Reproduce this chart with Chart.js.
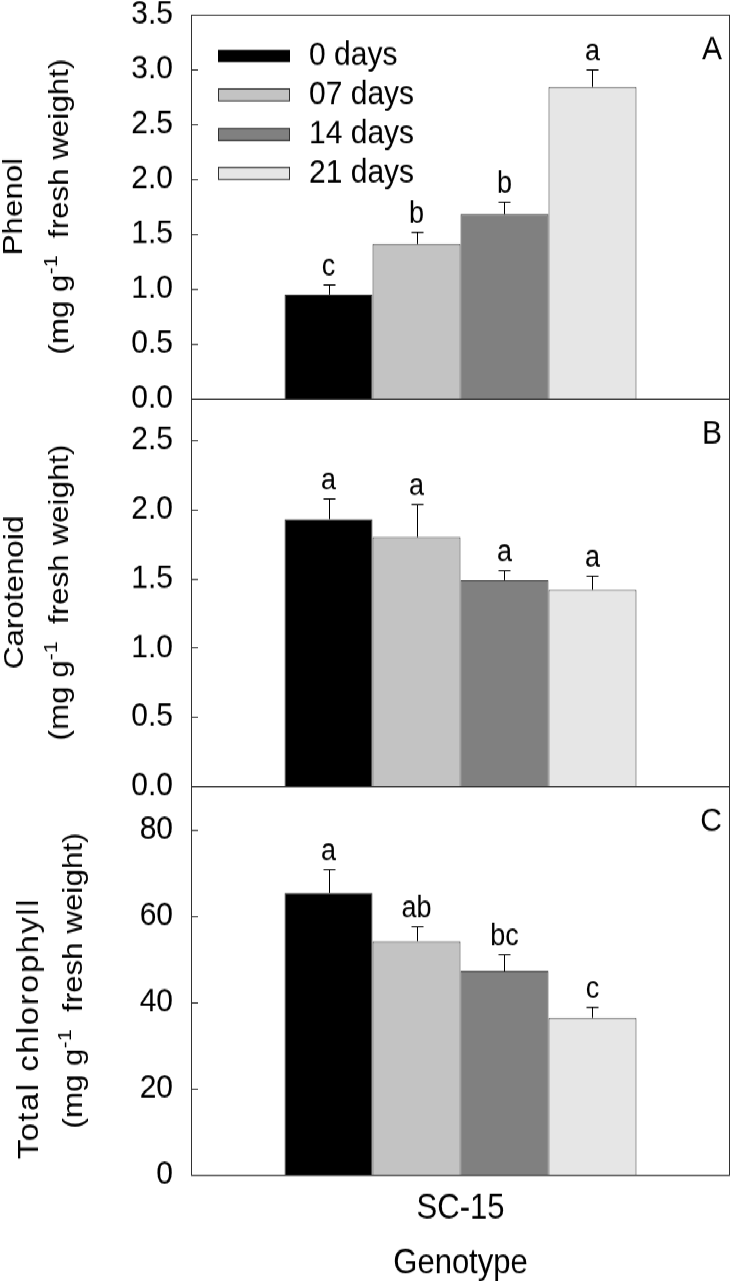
<!DOCTYPE html>
<html>
<head>
<meta charset="utf-8">
<script src="https://cdn.jsdelivr.net/npm/chart.js@4.4.1/dist/chart.umd.min.js"></script>
<style>
  body { margin: 0; background: #fff; }
  #page { width: 732px; height: 1282px; overflow: hidden; }
  #wrap { position: relative; width: 732px; transform-origin: 0 0; }
  #wrap canvas { position: absolute; left: 0; }
</style>
</head>
<body>
<div id="page"><div id="wrap"></div></div>
<script>
// vertical stretch of the whole figure (the original text is taller than Arial)
const SY = 1.12;
const FONT = "'Liberation Sans', Arial, Helvetica, sans-serif";

const genotypes = ["SC-15"];
const periods = ["0 days", "07 days", "14 days", "21 days"];
const barColors = ["#000000", "#c3c3c3", "#808080", "#e6e6e6"];

const phenolMeans = [0.95, 1.41, 1.68, 2.84];
const phenolErr = [0.09, 0.11, 0.12, 0.16];
const phenolLetters = ["c", "b", "b", "a"];

const carotMeans = [1.93, 1.80, 1.49, 1.42];
const carotErr = [0.15, 0.24, 0.07, 0.10];
const carotLetters = ["a", "a", "a", "a"];

const chlMeans = [65.3, 54.1, 47.2, 36.4];
const chlErr = [5.5, 3.6, 4.0, 2.5];
const chlLetters = ["a", "ab", "bc", "c"];

// panel layout, in page pixels
const panels = [
  { tag: "A", top: 0, bottom: 410, areaTop: 15, areaBottom: 399,
    means: phenolMeans, err: phenolErr, letters: phenolLetters,
    max: 3.5, step: 0.5, dec: 1, title: "Phenol", titleSize: 28, titleSpacing: 0,
    titleX: [22, 68], titleDy: 0, legend: true },
  { tag: "B", top: 390, bottom: 800, areaTop: 399, areaBottom: 787,
    means: carotMeans, err: carotErr, letters: carotLetters,
    max: 2.8, step: 0.5, dec: 1, title: "Carotenoid", titleSize: 28, titleSpacing: 0,
    titleX: [23, 68], titleDy: 0, legend: false },
  { tag: "C", top: 780, bottom: 1282, areaTop: 787, areaBottom: 1176,
    means: chlMeans, err: chlErr, letters: chlLetters,
    max: 90, step: 20, dec: 0, title: "Total chlorophyll", titleSize: 29, titleSpacing: 1.5,
    titleX: [38, 82], titleDy: 48, legend: false, xaxis: true }
];

const wrap = document.getElementById("wrap");
wrap.style.height = Math.round(1282 / SY) + "px";
wrap.style.transform = "scaleY(" + SY + ")";

function drawYTitle(ctx, p, area) {
  const cy = (area.top + area.bottom) / 2;
  ctx.save();
  ctx.fillStyle = "#000";
  ctx.textBaseline = "alphabetic";
  // first line
  ctx.save();
  ctx.translate(p.titleX[0], cy + p.titleDy / SY);
  ctx.rotate(-Math.PI / 2);
  ctx.font = p.titleSize + "px " + FONT;
  ctx.letterSpacing = p.titleSpacing + "px";
  ctx.textAlign = "center";
  ctx.fillText(p.title, 0, 0);
  ctx.restore();
  // second line with superscript
  const parts = [
    { t: "(mg g", f: "28px " + FONT, dy: 0 },
    { t: "-1", f: "19px " + FONT, dy: -11 },
    { t: "  fresh weight)", f: "28px " + FONT, dy: 0 }
  ];
  let total = 0;
  parts.forEach(q => { ctx.font = q.f; q.w = ctx.measureText(q.t).width; total += q.w; });
  ctx.translate(p.titleX[1], cy);
  ctx.rotate(-Math.PI / 2);
  ctx.textAlign = "left";
  let x = -total / 2;
  parts.forEach(q => { ctx.font = q.f; ctx.fillText(q.t, x, q.dy); x += q.w; });
  ctx.restore();
}

const panelPlugin = {
  id: "panelDeco",
  afterDraw(chart) {
    const p = chart.options.panel;
    const ctx = chart.ctx;
    const area = chart.chartArea;
    const ys = chart.scales.y;
    ctx.save();
    // error bars + letters
    ctx.strokeStyle = "#000";
    ctx.lineWidth = 1;
    chart.data.datasets.forEach((ds, i) => {
      const bar = chart.getDatasetMeta(i).data[0];
      const x = Math.round(bar.x) + 0.5;
      const yTop = bar.y;
      const yErr = Math.round(ys.getPixelForValue(p.means[i] + p.err[i])) + 0.5;
      ctx.beginPath();
      ctx.moveTo(x, yTop);
      ctx.lineTo(x, yErr);
      ctx.moveTo(x - 6, yErr);
      ctx.lineTo(x + 6, yErr);
      ctx.stroke();
      ctx.fillStyle = "#000";
      ctx.font = "27px " + FONT;
      ctx.textAlign = "center";
      ctx.textBaseline = "alphabetic";
      ctx.fillText(p.letters[i], bar.x, yErr - 9 / SY);
    });
    // frame
    ctx.strokeStyle = "#333";
    ctx.strokeRect(Math.round(area.left) + 0.5, Math.round(area.top) + 0.5,
      Math.round(area.right - area.left) - 1, Math.round(area.bottom - area.top));
    // inside tick marks
    ys.ticks.forEach(t => {
      const py = Math.round(ys.getPixelForValue(t.value)) + 0.5;
      ctx.beginPath();
      ctx.moveTo(area.left, py);
      ctx.lineTo(area.left + 7, py);
      ctx.stroke();
    });
    // panel tag
    ctx.fillStyle = "#000";
    ctx.font = "30px " + FONT;
    ctx.textAlign = "right";
    ctx.textBaseline = "middle";
    ctx.fillText(p.tag, 722, area.top + 35 / SY);
    // legend
    if (p.legend) {
      const rows = [56, 95, 134.5, 173.5];
      periods.forEach((name, i) => {
        const cy = (rows[i] - p.top) / SY;
        const bh = 12 / SY;
        ctx.fillStyle = barColors[i];
        ctx.fillRect(218, cy - bh / 2, 72, bh);
        if (i > 0) {
          ctx.strokeStyle = "#333";
          ctx.strokeRect(218.5, cy - bh / 2, 71, bh);
        }
        ctx.fillStyle = "#000";
        ctx.font = "30px " + FONT;
        ctx.textAlign = "left";
        ctx.textBaseline = "middle";
        ctx.fillText(name, 309, cy);
      });
    }
    drawYTitle(ctx, p, area);
    ctx.restore();
  }
};

panels.forEach(p => {
  const c = document.createElement("canvas");
  const h = Math.round((p.bottom - p.top) / SY);
  c.width = 732;
  c.height = h;
  c.style.top = Math.round(p.top / SY) + "px";
  c.style.width = "732px";
  c.style.height = h + "px";
  wrap.appendChild(c);

  const padTop = Math.round((p.areaTop - p.top) / SY);
  const xh = p.xaxis ? Math.round((p.bottom - p.areaBottom) / SY) : 0;
  const padBottom = p.xaxis ? 0 : Math.round((p.bottom - p.areaBottom) / SY);

  new Chart(c, {
    type: "bar",
    data: {
      labels: genotypes,
      datasets: periods.map((name, i) => ({
        label: name,
        data: [p.means[i]],
        backgroundColor: barColors[i],
        borderColor: "#333",
        borderWidth: 1,
        categoryPercentage: 0.653,
        barPercentage: 1
      }))
    },
    options: {
      panel: p,
      responsive: false,
      animation: false,
      layout: { padding: { top: padTop, bottom: padBottom, left: 0, right: 2 } },
      plugins: { legend: { display: false }, tooltip: { enabled: false } },
      scales: {
        x: {
          display: !!p.xaxis,
          grid: { display: false, drawTicks: false },
          border: { display: false },
          ticks: { font: { family: FONT, size: 31, lineHeight: 1 }, color: "#000",
                   padding: 34 / SY - 15.5 },
          title: { display: true, text: "Genotype", color: "#000",
                   font: { family: FONT, size: 31, lineHeight: 1 }, padding: { top: 0, bottom: 0 } },
          afterFit: s => {
            s.height = xh;
            s.paddingLeft = 0; s.paddingRight = 0;
          }
        },
        y: {
          min: 0,
          max: p.max,
          grid: { display: false, drawTicks: false },
          border: { display: false },
          ticks: {
            stepSize: p.step,
            includeBounds: false,
            color: "#000",
            font: { family: FONT, size: 30 },
            padding: 18,
            callback: v => Number(v).toFixed(p.dec)
          },
          afterFit: s => {
            s.width = 191;
            s.paddingTop = 0; s.paddingBottom = 0;
          }
        }
      }
    },
    plugins: [panelPlugin]
  });
});
</script>
</body>
</html>
